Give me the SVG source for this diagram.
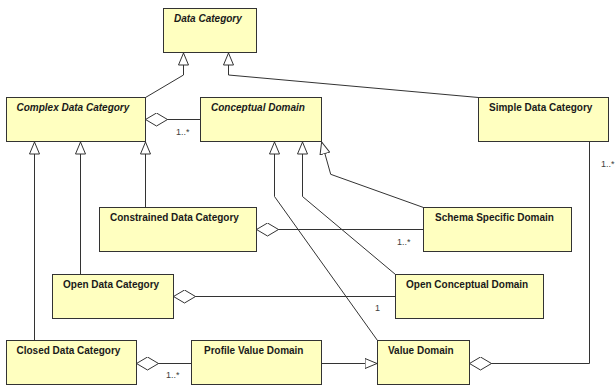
<svg xmlns="http://www.w3.org/2000/svg" width="616" height="387" viewBox="0 0 616 387">
<style>
  .box { fill: #ffffc0; stroke: #333333; stroke-width: 1; }
  .name { font-family: "Liberation Sans", Arial, sans-serif; font-size: 10px; font-weight: bold; fill: #1a1a1a; }
  .abstract { font-style: italic; }
  .conn { fill: none; stroke: #333333; stroke-width: 1; }
  .gen { marker-end: url(#tri); }
  .agg { marker-start: url(#diamond); }
  .mult { font-family: "Liberation Sans", Arial, sans-serif; font-size: 9px; fill: #404040; }
</style>
<defs>
  <marker id="tri" viewBox="0 0 13 11" refX="13" refY="5.5" markerWidth="13" markerHeight="11" markerUnits="userSpaceOnUse" orient="auto">
    <path d="M0.5,0.5 L12.5,5.5 L0.5,10.5 Z" fill="#ffffff" stroke="#333333" stroke-width="1"/>
  </marker>
  <marker id="diamond" viewBox="0 0 23 14" refX="0.5" refY="7" markerWidth="23" markerHeight="14" markerUnits="userSpaceOnUse" orient="auto">
    <path d="M0.5,7 L11.5,0.5 L22.5,7 L11.5,13.5 Z" fill="#ffffff" stroke="#333333" stroke-width="1"/>
  </marker>
</defs>
<rect width="616" height="387" fill="#ffffff"/>

<g id="connectors">
  <path class="conn gen" d="M145.5,97.5 L183.5,75 L183.5,52.5"/>
  <path class="conn gen" d="M478.5,97.5 L228.5,75 L228.5,52.5"/>
  <path class="conn agg" d="M145.5,119.5 L200.5,119.5"/>
  <path class="conn gen" d="M34.5,340.5 L34.5,141.5"/>
  <path class="conn gen" d="M80.5,274.5 L80.5,141.5"/>
  <path class="conn gen" d="M145.5,207.5 L145.5,141.5"/>
  <path class="conn gen" d="M377.5,340.5 L274.5,196.5 L274.5,141.5"/>
  <path class="conn gen" d="M395.5,274.5 L302.5,196.5 L302.5,141.5"/>
  <path class="conn gen" d="M423.5,207.5 L330.7,174.3 L321.5,141.5"/>
  <path class="conn agg" d="M256.5,229.5 L423.5,229.5"/>
  <path class="conn agg" d="M173.5,296.5 L395.5,296.5"/>
  <path class="conn agg" d="M136.5,363.5 L191.5,363.5"/>
  <path class="conn gen" d="M321.5,363.5 L377.5,363.5"/>
  <path class="conn agg" d="M469.5,363.5 L589.5,363.5 L589.5,141.5"/>
  <text class="mult" x="176" y="135">1..*</text>
  <text class="mult" x="397" y="245">1..*</text>
  <text class="mult" x="375" y="311">1</text>
  <text class="mult" x="166" y="378">1..*</text>
  <text class="mult" x="601" y="167">1..*</text>
</g>

<g id="data-category">
  <rect class="box" x="163.5" y="8.5" width="93" height="44"/>
  <text class="name abstract" x="174" y="22">Data Category</text>
</g>
<g id="complex-data-category">
  <rect class="box" x="6.5" y="97.5" width="139" height="44"/>
  <text class="name abstract" x="16.5" y="111">Complex Data Category</text>
</g>
<g id="conceptual-domain">
  <rect class="box" x="200.5" y="97.5" width="121" height="44"/>
  <text class="name abstract" x="211" y="111">Conceptual Domain</text>
</g>
<g id="simple-data-category">
  <rect class="box" x="478.5" y="97.5" width="130" height="44"/>
  <text class="name" x="489" y="111">Simple Data Category</text>
</g>
<g id="constrained-data-category">
  <rect class="box" x="99.5" y="207.5" width="157" height="44"/>
  <text class="name" x="110" y="221">Constrained Data Category</text>
</g>
<g id="schema-specific-domain">
  <rect class="box" x="423.5" y="207.5" width="148" height="44"/>
  <text class="name" x="435" y="221">Schema Specific Domain</text>
</g>
<g id="open-data-category">
  <rect class="box" x="52.5" y="274.5" width="121" height="44"/>
  <text class="name" x="63" y="288">Open Data Category</text>
</g>
<g id="open-conceptual-domain">
  <rect class="box" x="395.5" y="274.5" width="148" height="44"/>
  <text class="name" x="406" y="288">Open Conceptual Domain</text>
</g>
<g id="closed-data-category">
  <rect class="box" x="6.5" y="340.5" width="130" height="44"/>
  <text class="name" x="16.5" y="354">Closed Data Category</text>
</g>
<g id="profile-value-domain">
  <rect class="box" x="191.5" y="340.5" width="130" height="44"/>
  <text class="name" x="204" y="354">Profile Value Domain</text>
</g>
<g id="value-domain">
  <rect class="box" x="377.5" y="340.5" width="92" height="44"/>
  <text class="name" x="388" y="354">Value Domain</text>
</g>
</svg>
